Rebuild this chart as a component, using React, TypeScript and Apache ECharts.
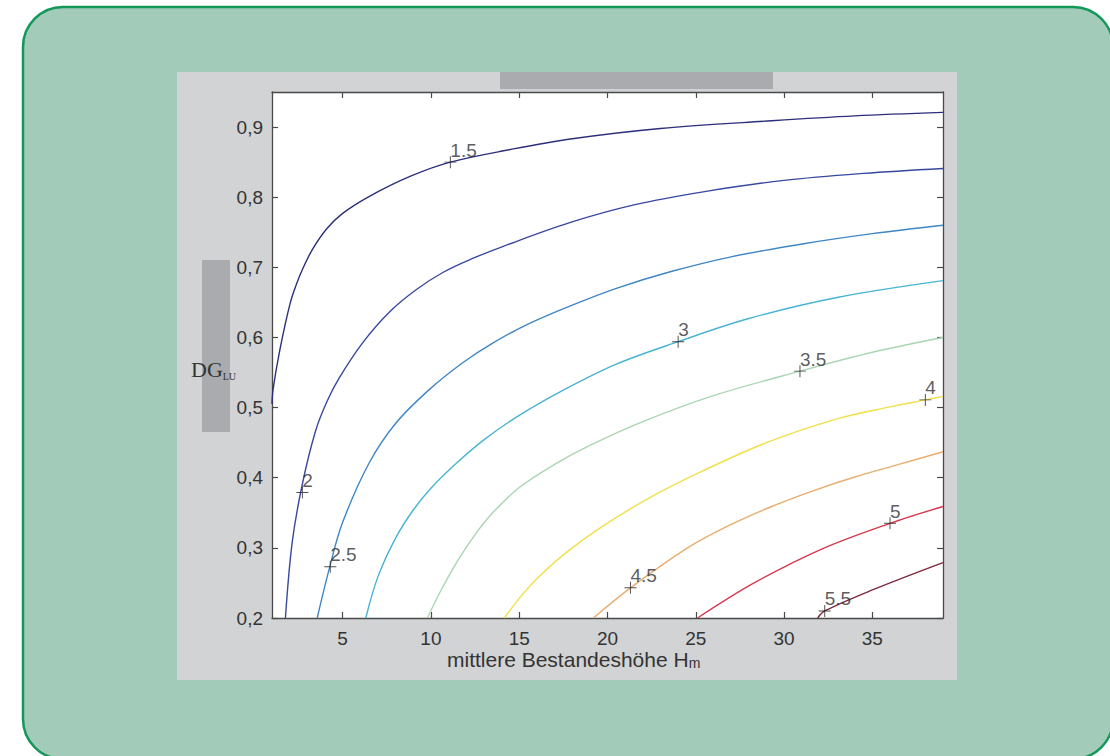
import React, { useEffect, useRef } from "react";
import * as echarts from "echarts";

// Contour levels and colours
const levels = ["1.5", "2", "2.5", "3", "3.5", "4", "4.5", "5", "5.5"];
const levelColors = [
  "#2c2f7c",
  "#3848a0",
  "#3f86c6",
  "#48b3d3",
  "#a9d6b2",
  "#f1e04a",
  "#e9ad6e",
  "#d8384c",
  "#7c2a3c",
];

// Contour lines: [H_m, DG_LU]
const c15: [number, number][] = [
  [1.0, 0.505], [1.06, 0.526], [1.45, 0.583], [2.02, 0.648], [2.4, 0.677], [2.76, 0.699], [3.3, 0.726],
  [4.1, 0.755], [5.0, 0.777], [6.57, 0.802], [8.85, 0.83], [11.1, 0.85], [14.5, 0.868],
  [17.9, 0.883], [23, 0.898], [29.3, 0.909], [34, 0.916], [39, 0.921],
];
const c20: [number, number][] = [
  [1.76, 0.2], [2.14, 0.307], [2.71, 0.39], [3.47, 0.467], [4.1, 0.508], [4.8, 0.542], [6.12, 0.592],
  [7.64, 0.636], [9.16, 0.668], [10.7, 0.693], [12.4, 0.713], [14.1, 0.73], [17.9, 0.764],
  [21.5, 0.789], [25.5, 0.808], [30, 0.824], [34.5, 0.834], [39, 0.841],
];
const c25: [number, number][] = [
  [3.56, 0.2], [4.23, 0.269], [4.98, 0.335], [6.5, 0.421], [8.02, 0.478], [9.92, 0.526],
  [11.8, 0.564], [13.5, 0.592], [15.5, 0.619], [17.9, 0.645], [20.5, 0.67], [23.6, 0.694],
  [27, 0.715], [31.2, 0.734], [35, 0.748], [39, 0.76],
];
const c30: [number, number][] = [
  [6.31, 0.2], [7.0, 0.259], [8.0, 0.314], [9.0, 0.354], [10.0, 0.385], [11.5, 0.422],
  [13.0, 0.454], [15.0, 0.489], [17.5, 0.525], [20.5, 0.562], [24.0, 0.594], [28.0, 0.627],
  [33.0, 0.657], [39, 0.681],
];
const c35: [number, number][] = [
  [9.8, 0.2], [10.5, 0.236], [11.5, 0.281], [12.5, 0.319], [13.5, 0.35], [15.0, 0.386],
  [17.0, 0.419], [19.0, 0.446], [22.0, 0.48], [26.0, 0.517], [30.9, 0.552], [35, 0.579], [39, 0.6],
];
const c40: [number, number][] = [
  [14.16, 0.2], [15.0, 0.228], [16.0, 0.256], [17.5, 0.29], [19.5, 0.327], [22.0, 0.366],
  [25.0, 0.405], [29.0, 0.45], [33.0, 0.484], [36.0, 0.501], [38.0, 0.511], [39, 0.516],
];
const c45: [number, number][] = [
  [19.2, 0.2], [21.3, 0.243], [24.6, 0.301], [26.8, 0.331], [29.3, 0.359], [31.6, 0.381],
  [34, 0.401], [36.5, 0.419], [39, 0.437],
];
const c50: [number, number][] = [
  [25.1, 0.2], [28.3, 0.25], [32.1, 0.298], [36.0, 0.335], [39, 0.359],
];
const c55: [number, number][] = [
  [31.9, 0.2], [32.3, 0.21], [35, 0.24], [39, 0.279],
];
const contours = [c15, c20, c25, c30, c35, c40, c45, c50, c55];

// Label positions ("+" markers)
const labelPoints: [number, number][] = [
  [11.1, 0.85], [2.72, 0.379], [4.3, 0.273], [24.0, 0.594], [30.9, 0.552],
  [38.0, 0.511], [21.3, 0.243], [36.0, 0.335], [32.3, 0.21],
];

const xTicks = [5, 10, 15, 20, 25, 30, 35];
const yTicks = [0.2, 0.3, 0.4, 0.5, 0.6, 0.7, 0.8, 0.9];

const axisColor = "#4a4a4a";
const sans = "'Liberation Sans', Arial, sans-serif";
const serif = "'Liberation Serif', 'Times New Roman', serif";

export default function App() {
  const ref = useRef<HTMLDivElement>(null);
  useEffect(() => {
    if (!ref.current) return;
    const chart = echarts.init(ref.current, null, { renderer: "svg" });

    const axisLine = { show: true, onZero: false, lineStyle: { color: axisColor, width: 1.3 } };
    const xTick = { show: true, inside: true, length: 6, customValues: xTicks, lineStyle: { color: axisColor, width: 1.2 } };
    const yTick = { show: true, inside: true, length: 6, customValues: yTicks, lineStyle: { color: axisColor, width: 1.2 } };

    const lineSeries = contours.map((d, i) => ({
      type: "line",
      name: levels[i],
      data: d,
      showSymbol: false,
      smooth: 0.35,
      silent: true,
      lineStyle: { color: levelColors[i], width: 1.4 },
      z: 2,
    }));

    const option: any = {
      animation: false,
      backgroundColor: "#ffffff",
      grid: {
        left: 272,
        top: 92,
        right: 167,
        bottom: 138,
        show: true,
        backgroundColor: "#ffffff",
        borderWidth: 0,
      },
      xAxis: [
        {
          type: "value",
          min: 1,
          max: 39,
          position: "bottom",
          axisLine,
          axisTick: xTick,
          axisLabel: { customValues: xTicks, color: "#333", fontSize: 19, fontFamily: sans, margin: 11 },
          splitLine: { show: false },
        },
        {
          type: "value",
          min: 1,
          max: 39,
          position: "top",
          axisLine,
          axisTick: xTick,
          axisLabel: { show: false },
          splitLine: { show: false },
        },
      ],
      yAxis: [
        {
          type: "value",
          min: 0.2,
          max: 0.95,
          position: "left",
          axisLine,
          axisTick: yTick,
          axisLabel: {
            customValues: yTicks,
            color: "#333",
            fontSize: 19,
            fontFamily: sans,
            margin: 9,
            formatter: (v: number) => v.toFixed(1).replace(".", ","),
          },
          splitLine: { show: false },
        },
        {
          type: "value",
          min: 0.2,
          max: 0.95,
          position: "right",
          axisLine,
          axisTick: yTick,
          axisLabel: { show: false },
          splitLine: { show: false },
        },
      ],
      series: [
        ...lineSeries,
        {
          type: "scatter",
          data: labelPoints.map((p, i) => ({ value: p, name: levels[i] })),
          symbol: "path://M0,4.6H10V5.4H0Z M4.6,0H5.4V10H4.6Z",
          symbolSize: 12,
          itemStyle: { color: "#222" },
          silent: true,
          z: 5,
          label: {
            show: true,
            formatter: "{b}",
            position: [6, -6],
            align: "left",
            verticalAlign: "middle",
            color: "#333",
            fontSize: 19,
            fontFamily: sans,
          },
        },
      ],
      graphic: [
        {
          type: "rect",
          z: -10,
          shape: { x: 23, y: 7, width: 1090, height: 752, r: 40 },
          style: { fill: "#a3cbb9", stroke: "#14985a", lineWidth: 2.5 },
          silent: true,
        },
        {
          type: "rect",
          z: -9,
          shape: { x: 177, y: 72, width: 780, height: 608 },
          style: { fill: "#d1d3d5" },
          silent: true,
        },
        {
          type: "rect",
          z: -8,
          shape: { x: 500, y: 72, width: 273, height: 17 },
          style: { fill: "#a9abae" },
          silent: true,
        },
        {
          type: "rect",
          z: -8,
          shape: { x: 202, y: 260, width: 28, height: 172 },
          style: { fill: "#a9abae" },
          silent: true,
        },
        {
          type: "text",
          z: 10,
          x: 447,
          y: 659,
          style: {
            text: "mittlere Bestandeshöhe H{sub|m}",
            fill: "#333",
            fontSize: 21,
            fontFamily: sans,
            verticalAlign: "middle",
            lineHeight: 22,
            rich: {
              sub: { fontSize: 14, fill: "#333", fontFamily: sans, verticalAlign: "bottom", lineHeight: 2 },
            },
          },
          silent: true,
        },
        {
          type: "text",
          z: 10,
          x: 191,
          y: 369,
          style: {
            text: "DG{sub|LU}",
            fill: "#333",
            fontSize: 22,
            fontFamily: serif,
            verticalAlign: "middle",
            lineHeight: 24,
            rich: {
              sub: {
                fontSize: 10,
                fill: "#333",
                fontFamily: serif,
                verticalAlign: "bottom",
                lineHeight: 10,
              },
            },
          },
          silent: true,
        },
      ],
    };
    chart.setOption(option);
    return () => chart.dispose();
  }, []);

  return (
    <div
      ref={ref}
      style={{ position: "fixed", left: 0, top: 0, width: 1110, height: 756 }}
    />
  );
}
